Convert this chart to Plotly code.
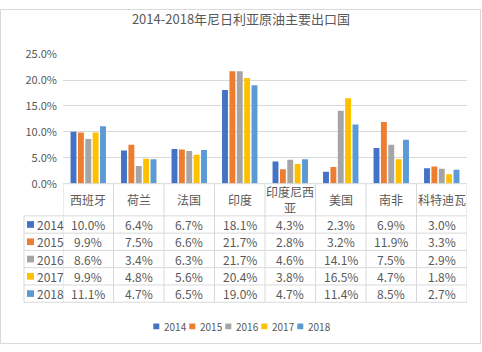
import plotly.graph_objects as go

# ---- data ----
categories = ["西班牙", "荷兰", "法国", "印度", "印度尼西亚", "美国", "南非", "科特迪瓦"]
years = ["2014", "2015", "2016", "2017", "2018"]
y2014 = [10.0, 6.4, 6.7, 18.1, 4.3, 2.3, 6.9, 3.0]
y2015 = [9.9, 7.5, 6.6, 21.7, 2.8, 3.2, 11.9, 3.3]
y2016 = [8.6, 3.4, 6.3, 21.7, 4.6, 14.1, 7.5, 2.9]
y2017 = [9.9, 4.8, 5.6, 20.4, 3.8, 16.5, 4.7, 1.8]
y2018 = [11.1, 4.7, 6.5, 19.0, 4.7, 11.4, 8.5, 2.7]
series = [y2014, y2015, y2016, y2017, y2018]
title = "2014-2018年尼日利亚原油主要出口国"

# ---- styling ----
colors = ["#4472C4", "#ED7D31", "#A5A5A5", "#FFC000", "#5B9BD5"]
W, H = 482, 352
FONT = "Noto Sans CJK SC, sans-serif"
TXT = "#595959"
LINE = "#d9d9d9"


def px(x):
    return x / W


def py(y):
    return 1 - y / H


fig = go.Figure()
for name, vals, c in zip(years, series, colors):
    fig.add_trace(go.Bar(x=categories, y=[v / 100 for v in vals], name=name,
                         marker=dict(color=c, line=dict(width=0))))

shapes = []
annotations = []

# table geometry
plot_left, plot_right = 63, 467
axis_y = 183
header_bottom = 216.7
row_h = 18.1
n_rows = len(years)
table_bottom = header_bottom + row_h * n_rows
key_left = 24

# vertical lines at category boundaries
for i in range(len(categories) + 1):
    shapes.append(dict(type="line", xref="x", yref="paper", x0=i - 0.5, x1=i - 0.5,
                       y0=py(axis_y), y1=py(table_bottom), line=dict(color=LINE, width=1)))
# left key column border
shapes.append(dict(type="line", xref="paper", yref="paper", x0=px(key_left), x1=px(key_left),
                   y0=py(header_bottom), y1=py(table_bottom), line=dict(color=LINE, width=1)))
# horizontal lines
shapes.append(dict(type="line", xref="paper", yref="paper", x0=px(plot_left), x1=px(plot_right),
                   y0=py(axis_y), y1=py(axis_y), line=dict(color=LINE, width=1)))
for r in range(n_rows + 1):
    yy = header_bottom + r * row_h
    shapes.append(dict(type="line", xref="paper", yref="paper", x0=px(key_left), x1=px(plot_right),
                       y0=py(yy), y1=py(yy), line=dict(color=LINE, width=1)))


def wrap(s):
    return s[:4] + "<br>" + s[4:] if len(s) > 4 else s


# header labels
for i, c in enumerate(categories):
    annotations.append(dict(x=i, xref="x", y=py((axis_y + header_bottom) / 2), yref="paper",
                            text=wrap(c), showarrow=False, yanchor="middle", xanchor="center",
                            font=dict(family=FONT, size=12, color=TXT)))

# rows
for r, (name, vals, col) in enumerate(zip(years, series, colors)):
    yc = header_bottom + row_h * (r + 0.5)
    shapes.append(dict(type="rect", xref="paper", yref="paper", x0=px(27), x1=px(34),
                       y0=py(yc + 3.5), y1=py(yc - 3.5), fillcolor=col, line=dict(width=0)))
    annotations.append(dict(x=px(34.5), xref="paper", y=py(yc), yref="paper", text=name,
                            showarrow=False, xanchor="left", yanchor="middle",
                            font=dict(family=FONT, size=12, color=TXT)))
    for i, v in enumerate(vals):
        annotations.append(dict(x=i, xref="x", y=py(yc), yref="paper", text=f"{v:.1f}%",
                                showarrow=False, xanchor="center", yanchor="middle",
                                font=dict(family=FONT, size=12, color=TXT)))

# bottom legend
leg_y = 332.5
for k, (name, col) in enumerate(zip(years, colors)):
    x0 = 153.3 + 36 * k
    shapes.append(dict(type="rect", xref="paper", yref="paper", x0=px(x0), x1=px(x0 + 6),
                       y0=py(leg_y + 3), y1=py(leg_y - 3), fillcolor=col, line=dict(width=0)))
    annotations.append(dict(x=px(x0 + 9), xref="paper", y=py(leg_y), yref="paper", text=name,
                            showarrow=False, xanchor="left", yanchor="middle",
                            font=dict(family=FONT, size=10, color=TXT)))

# outer border
shapes.append(dict(type="rect", xref="paper", yref="paper", x0=px(0.5), x1=px(480.5),
                   y0=py(350.5), y1=py(0.5), line=dict(color=LINE, width=1), fillcolor="rgba(0,0,0,0)"))

fig.update_layout(
    width=W, height=H,
    margin=dict(l=0, r=0, t=0, b=0),
    paper_bgcolor="white", plot_bgcolor="white",
    showlegend=False,
    barmode="group", bargap=0.27, bargroupgap=0.2,
    title=dict(text=title, x=0.5, xanchor="center", y=py(19), yanchor="middle",
               font=dict(family=FONT, size=13, color=TXT)),
    xaxis=dict(domain=[px(plot_left), px(plot_right)], range=[-0.5, len(categories) - 0.5],
               showticklabels=False, showgrid=False, zeroline=False, showline=False, ticks=""),
    yaxis=dict(domain=[py(axis_y), py(47.3)], range=[0, 0.25], dtick=0.05, tickformat=".1%",
               showgrid=True, gridcolor=LINE, gridwidth=1, zeroline=False, showline=False,
               ticklabelstandoff=5,
               tickfont=dict(family=FONT, size=11, color=TXT)),
    shapes=shapes, annotations=annotations,
    font=dict(family=FONT, color=TXT),
)

fig.write_html("out.html")
